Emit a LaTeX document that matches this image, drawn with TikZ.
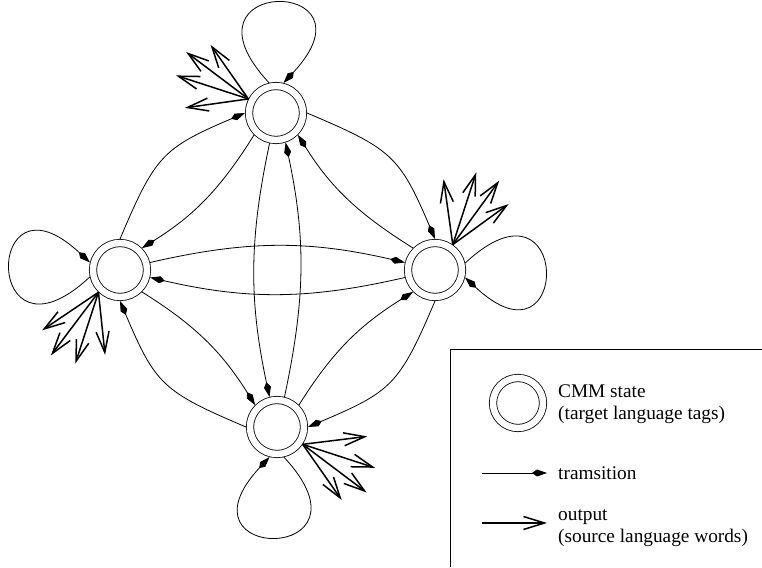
\documentclass[tikz,border=0pt]{standalone}
\usepackage{fontspec}
\setmainfont{Liberation Serif}
\usetikzlibrary{arrows.meta, positioning}

\begin{document}
\begin{tikzpicture}[x=1pt, y=1pt, font=\fontsize{19.3}{22}\selectfont,
            state/.style={circle, draw, double, double distance=6.5pt, line width=0.8pt,
                minimum size=54pt, inner sep=0pt, outer sep=4pt},
            trans/.style={line width=0.8pt, -{Kite[length=15pt, width=7pt, inset=5pt]}},
            output/.style={line width=1.5pt, -{Straight Barb[length=21pt, width=13pt]}},
            legtext/.style={anchor=west, align=left, inner sep=0pt}]

            \useasboundingbox (0,0) rectangle (762,567);

            % CMM states
            \node[state] (T) at (276,454) {};
            \node[state] (L) at (120,297) {};
            \node[state] (R) at (435,297) {};
            \node[state] (B) at (277,140) {};

            % Outer transitions
            \draw[trans] (L.90) to[out=67, in=203, looseness=1.3] (T.180);
            \draw[trans] (T.0) to[out=-23, in=113, looseness=1.3] (R.90);
            \draw[trans] (R.270) to[out=-113, in=23, looseness=1.3] (B.0);
            \draw[trans] (B.180) to[out=157, in=293, looseness=1.3] (L.270);

            % Inner transitions
            \draw[trans] (T.225) to[out=238, in=32] (L.45);
            \draw[trans] (R.135) to[out=148, in=-58] (T.315);
            \draw[trans] (B.45) to[out=58, in=212] (R.225);
            \draw[trans] (L.315) to[out=328, in=122] (B.135);

            % Across the middle
            \draw[trans] (L.14) to[out=13, in=167] (R.166);
            \draw[trans] (R.194) to[out=193, in=-13] (L.346);
            \draw[trans] (T.258) to[out=258, in=102] (B.104);
            \draw[trans] (B.76) to[out=78, in=282] (T.288);

            % Self loops
            \draw[trans] (T.103) .. controls +(133:146) and +(47:146) .. (T.76);
            \draw[trans] (L.193) .. controls +(223:146) and +(137:146) .. (L.166);
            \draw[trans] (R.13) .. controls +(43:146) and +(-43:146) .. (R.-14);
            \draw[trans] (B.283) .. controls +(313:146) and +(227:146) .. (B.256);

            % Outputs
            \foreach \ang/\len in {125/66, 143/78, 162/76, 188/64}
                \draw[output] (T.153) -- ++(\ang:\len);
            \foreach \ang/\len in {98/66, 72/76, 54/79, 36/69}
                \draw[output] (R.55) -- ++(\ang:\len);
            \foreach \ang/\len in {214/68, 233/79, 252/75, 276/63}
                \draw[output] (L.226) -- ++(\ang:\len);
            \foreach \ang/\len in {7/65, -18/76, -37/80, -55/68}
                \draw[output] (B.326) -- ++(\ang:\len);

            % Legend
            \draw[line width=0.6pt] (762,218) -- (450,218) -- (450,0);
            \node[state, minimum size=50pt] (legstate) at (518,164) {};
            \node[legtext] (legstatetext) at (558,163) {CMM state\\(target language tags)};

            \coordinate (legtrA) at (482,94);
            \coordinate (legtrB) at (547,94);
            \draw[trans] (legtrA) -- (legtrB);
            \node[legtext, right=11pt of legtrB] (legtrtext) {tramsition};

            \coordinate (legoutA) at (482,44);
            \coordinate (legoutB) at (547,44);
            \draw[output] (legoutA) -- (legoutB);
            \node[legtext] (legouttext) at (558,38.5) {output\\(source language words)};
        \end{tikzpicture}
\end{document}
